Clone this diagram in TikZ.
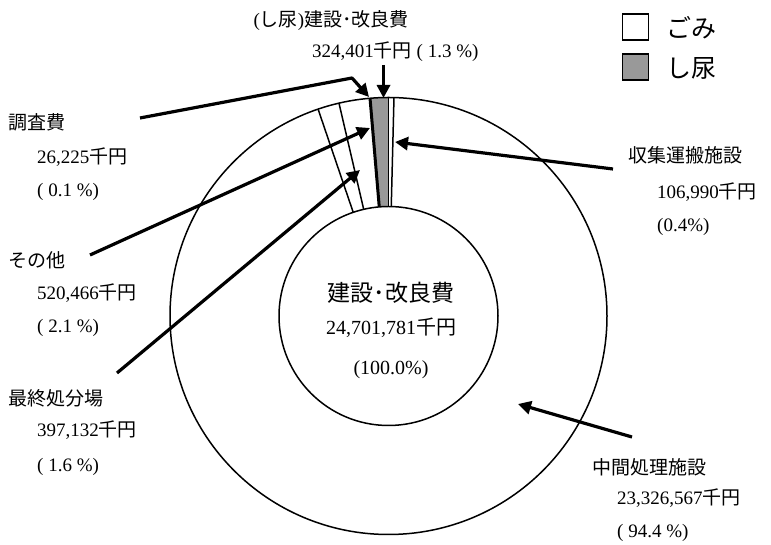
\documentclass[tikz,border=0pt]{standalone}
\usepackage{fontspec}
\setmainfont{Liberation Serif}
\newfontfamily\cjk{Noto Sans CJK JP}
\usetikzlibrary{arrows.meta}
\tikzset{
  ring/.style={line width=1.5pt},
  arr/.style={line width=3.2pt, line join=round, -{Triangle[length=13pt,width=13pt]}},
  lab/.style={anchor=west, inner sep=0pt, font=\fontsize{19}{19}\selectfont},
  ctr/.style={inner sep=0pt, font=\fontsize{20}{20}\selectfont},
  leg/.style={draw, line width=1.6pt, minimum size=26pt, inner sep=0pt},
  legtxt/.style={anchor=west, inner sep=0pt, font=\fontsize{25}{25}\selectfont}
}
\begin{document}
\begin{tikzpicture}[x=1pt,y=1pt]
\useasboundingbox (0,0) rectangle (771,545);
\coordinate (C) at (388.5,229);
% gray wedge (し尿)
\fill[black!40] ([shift={(90:109.5)}]C) -- ([shift={(90:218.5)}]C)
  arc[start angle=90,end angle=94.7,radius=218.5]
  -- ([shift={(94.7:109.5)}]C) arc[start angle=94.7,end angle=90,radius=109.5] -- cycle;
% circles
\draw[ring] (C) circle[radius=218.5];
\draw[ring] (C) circle[radius=109.5];
% radial boundaries
\foreach \a in {88.56,90,103.1,108.8}
  \draw[ring] ([shift={(\a:109.5)}]C) -- ([shift={(\a:218.5)}]C);
\draw[line width=3pt] ([shift={(94.85:109.5)}]C) -- ([shift={(94.85:218.5)}]C);
% centre text
\node[ctr, font=\fontsize{23}{23}\selectfont] (ct1) at (391,252) {\cjk 建設･改良費};
\node[ctr] (ct2) at (391,217) {24,701,781{\cjk 千円}};
\node[ctr] (ct3) at (391,175) {(100.0\%)};
% legend
\node[leg, fill=white] (lg1) at (635.5,518) {};
\node[legtxt] (lt1) at (666,517) {\cjk ごみ};
\node[leg, fill=black!40] (lg2) at (635.5,478) {};
\node[legtxt] (lt2) at (666,477) {\cjk し尿};
% top label
\node[lab, anchor=east] (top1) at (409,524) {({\cjk し尿}){\cjk 建設･改良費}};
\node[lab] (top2) at (312,493) {324,401{\cjk 千円} ( 1.3 \%)};
% left labels
\node[lab] (a1) at (8,423) {\cjk 調査費};
\node[lab] (a2) at (37,388) {26,225{\cjk 千円}};
\node[lab] (a3) at (37,353) {( 0.1 \%)};
\node[lab] (b1) at (8,285) {\cjk その他};
\node[lab] (b2) at (37,252) {520,466{\cjk 千円}};
\node[lab] (b3) at (37,217) {( 2.1 \%)};
\node[lab] (c1) at (8,147) {\cjk 最終処分場};
\node[lab] (c2) at (37,115) {397,132{\cjk 千円}};
\node[lab] (c3) at (37,78) {( 1.6 \%)};
% right labels
\node[lab] (d1) at (628,390) {\cjk 収集運搬施設};
\node[lab] (d2) at (657,353) {106,990{\cjk 千円}};
\node[lab] (d3) at (657,318) {(0.4\%)};
\node[lab] (e1) at (592,78) {\cjk 中間処理施設};
\node[lab] (e2) at (617,47) {23,326,567{\cjk 千円}};
\node[lab] (e3) at (617,12) {( 94.4 \%)};
% arrow coordinates
\coordinate (s1) at (140,427);
\coordinate (k1) at (352,467);
\coordinate (t1) at (369,448);
\coordinate (s2) at (383.5,480);
\coordinate (t2) at (383.5,447);
\coordinate (s3) at (90,290);
\coordinate (t3) at (370,417);
\coordinate (s4) at (117,172);
\coordinate (t4) at (360,375);
\coordinate (s5) at (613,376);
\coordinate (t5) at (395,403);
\coordinate (s6) at (632,108);
\coordinate (t6) at (518,141);
% arrows
\draw[arr] (s1) -- (k1) -- (t1);
\draw[arr] (s2) -- (t2);
\draw[arr] (s3) -- (t3);
\draw[arr] (s4) -- (t4);
\draw[arr] (s5) -- (t5);
\draw[arr] (s6) -- (t6);
\end{tikzpicture}
\end{document}
